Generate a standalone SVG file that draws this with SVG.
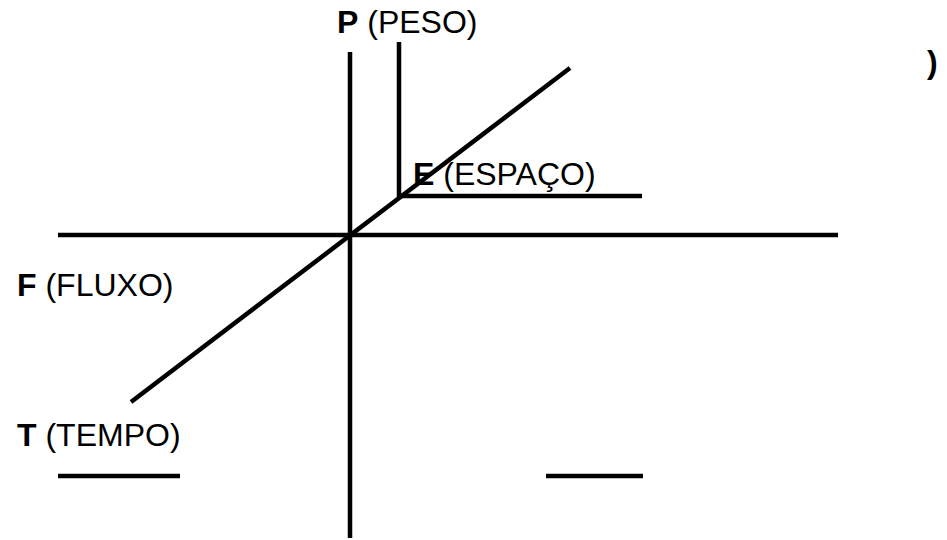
<svg xmlns="http://www.w3.org/2000/svg" width="947" height="540" viewBox="0 0 947 540">
<style>
.ln{stroke:#000;stroke-width:4.5;fill:none}
.lb{font-family:"Liberation Sans",Arial,sans-serif;font-size:32px;fill:#000}
.b{font-weight:bold}
</style>
<rect width="947" height="540" fill="#fff"/>
<g id="connectors">
<line class="ln" x1="350" y1="52" x2="350" y2="538"/>
<line class="ln" x1="58" y1="235" x2="838" y2="235"/>
<line class="ln" x1="131" y1="402" x2="570" y2="68"/>
<line class="ln" x1="399" y1="42" x2="399" y2="198"/>
<line class="ln" x1="399" y1="196" x2="642" y2="196"/>
<line class="ln" x1="58" y1="476" x2="180" y2="476"/>
<line class="ln" x1="546" y1="476" x2="643" y2="476"/>
</g>
<g id="node-P"><text class="lb" x="337" y="33"><tspan class="b">P</tspan> (PESO)</text></g>
<g id="node-E"><text class="lb" x="413" y="185"><tspan class="b">E</tspan> (ESPAÇO)</text></g>
<g id="node-F"><text class="lb" x="17" y="296"><tspan class="b">F</tspan> (FLUXO)</text></g>
<g id="node-T"><text class="lb" x="17" y="446"><tspan class="b">T</tspan> (TEMPO)</text></g>
<g id="node-paren"><text class="lb b" x="927" y="73">)</text></g>
</svg>
